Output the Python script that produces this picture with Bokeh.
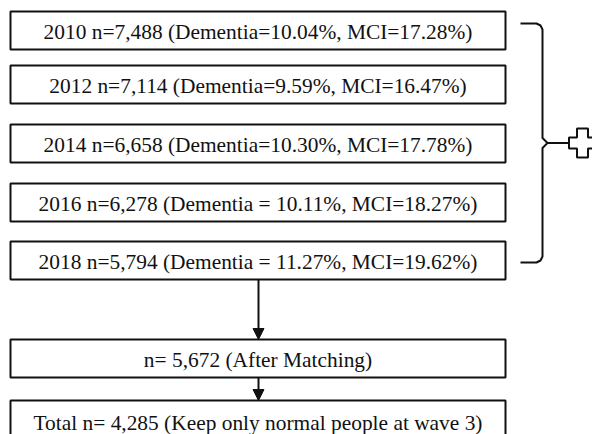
from bokeh.plotting import figure
from bokeh.models import Range1d, Arrow, NormalHead
from bokeh.core.properties import value
from bokeh.embed import file_html
from bokeh.resources import INLINE

# ---- content ----
wave_labels = [
    "2010 n=7,488 (Dementia=10.04%, MCI=17.28%)",
    "2012 n=7,114 (Dementia=9.59%, MCI=16.47%)",
    "2014 n=6,658 (Dementia=10.30%, MCI=17.78%)",
    "2016 n=6,278 (Dementia = 10.11%, MCI=18.27%)",
    "2018 n=5,794 (Dementia = 11.27%, MCI=19.62%)",
]
match_label = "n= 5,672 (After Matching)"
final_label = "Total n= 4,285 (Keep only normal people at wave 3)"

# ---- layout (reference pixel coordinates) ----
box_left, box_right = 10, 505
box_h = 38
wave_tops = [11, 65, 124, 183, 241]
match_top = 339
final_top = 400
final_h = 42
arrow_x = 258

FONT = value("Liberation Serif")
FS = "21.4px"

W, H = 592, 434
p = figure(width=W, height=H, output_backend="svg", toolbar_location=None,
           x_range=Range1d(0, W), y_range=Range1d(H, 0),
           min_border=0, tools="")
p.axis.visible = False
p.grid.visible = False
p.outline_line_color = None
p.background_fill_color = "white"
p.border_fill_color = "white"

# boxes
tops = wave_tops + [match_top, final_top]
heights = [box_h] * 6 + [final_h]
labels = wave_labels + [match_label, final_label]
bottoms = [t + h for t, h in zip(tops, heights)]
p.quad(left=[box_left] * 7, right=[box_right] * 7, top=tops, bottom=bottoms,
       fill_color="white", line_color="#111111", line_width=2)

cx = (box_left + box_right) / 2
p.text(x=[cx] * 7, y=[(t + b) / 2 + 1 for t, b in zip(tops, bottoms)], text=labels,
       text_font=FONT, text_font_size=FS, text_color="#111111",
       text_align="center", text_baseline="middle")

# arrows
for ys, ye in [(bottoms[4], match_top), (bottoms[5], final_top)]:
    p.add_layout(Arrow(end=NormalHead(size=11, fill_color="#111111", line_color="#111111"),
                       x_start=arrow_x, y_start=ys, x_end=arrow_x, y_end=ye,
                       line_color="#111111", line_width=2))

# bracket
bt = wave_tops[0] + 12
bb = bottoms[4] - 17
bm = (bt + bb) / 2
x0, xv = 520, 542
bx = [x0, xv - 6, xv - 2, xv, xv, xv + 5, xv, xv, xv - 2, xv - 6, x0]
by = [bt, bt, bt + 2, bt + 6, bm - 5, bm, bm + 5, bb - 6, bb - 2, bb, bb]
p.line(bx, by, line_color="#111111", line_width=2)
p.line([xv + 5, 568], [bm, bm], line_color="#111111", line_width=2)

# outlined plus sign
ccx, ccy = 582, bm
a, hl, vl = 5.5, 13.5, 14.5
px = [ccx - a, ccx + a, ccx + a, ccx + hl, ccx + hl, ccx + a, ccx + a, ccx - a, ccx - a, ccx - hl, ccx - hl, ccx - a]
py = [ccy - vl, ccy - vl, ccy - a, ccy - a, ccy + a, ccy + a, ccy + vl, ccy + vl, ccy + a, ccy + a, ccy - a, ccy - a]
p.patch(px, py, fill_color="white", line_color="#111111", line_width=2)

open("out.html", "w").write(file_html(p, INLINE))
